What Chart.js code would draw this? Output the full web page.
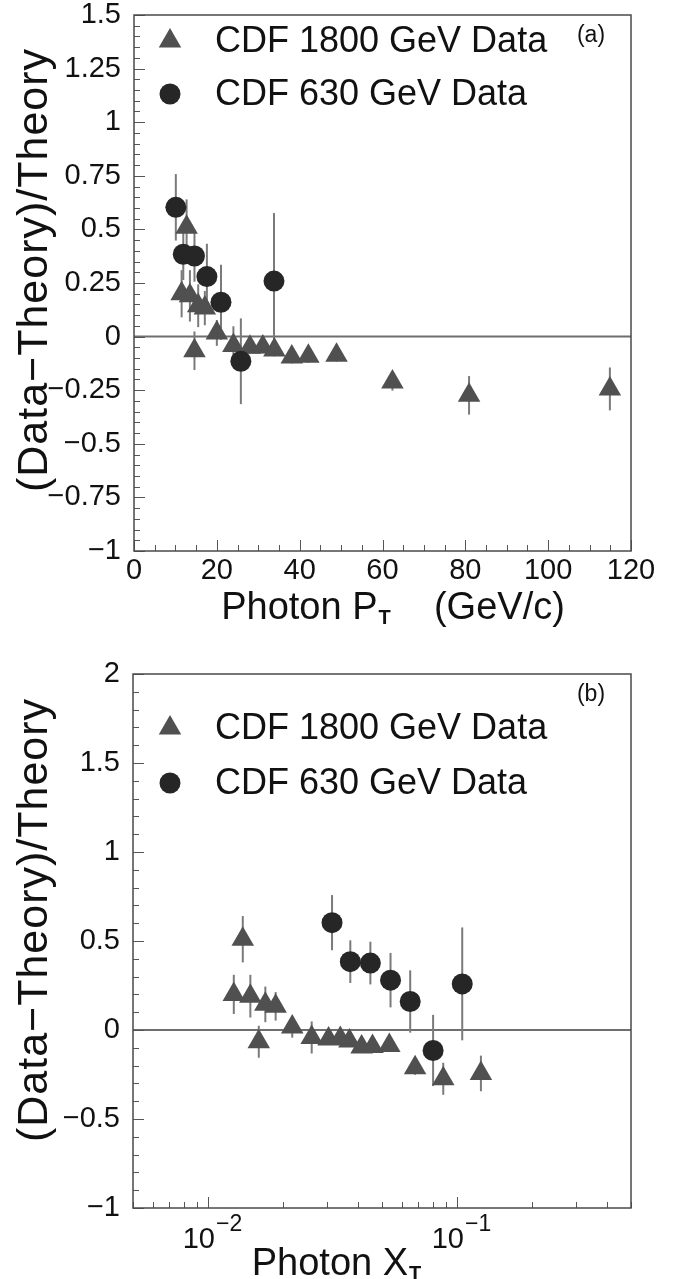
<!DOCTYPE html>
<html>
<head>
<meta charset="utf-8">
<script src="https://cdn.jsdelivr.net/npm/chart.js@4.4.1/dist/chart.umd.min.js"></script>
<style>
  html, body { margin: 0; padding: 0; background: #fff; }
  canvas { display: block; }
</style>
</head>
<body>
<canvas id="chartA" width="679" height="640"></canvas>
<canvas id="chartB" width="679" height="639"></canvas>
<script>
// CDF 1800 GeV data (triangles)
const pt1800 = [11.5, 12.7, 13.5, 14.6, 15.5, 17.1, 20.0, 24.0, 28.0, 31.1, 33.9, 38.1, 42.1, 48.9, 62.4, 80.9, 114.9];
const xt1800 = [0.0127, 0.0138, 0.0148, 0.0160, 0.0170, 0.0187, 0.0218, 0.0261, 0.0305, 0.0340, 0.0370, 0.0414, 0.0458, 0.0535, 0.0679, 0.0881, 0.1248];
const ratio1800 = [0.20, 0.51, 0.19, -0.066, 0.144, 0.133, 0.017, -0.042, -0.05, -0.048, -0.062, -0.095, -0.092, -0.087, -0.212, -0.274, -0.244];
const err1800 = [0.11, 0.13, 0.12, 0.09, 0.10, 0.08, 0.06, 0.09, 0.03, 0.03, 0.03, 0.03, 0.03, 0.03, 0.04, 0.09, 0.10];

// CDF 630 GeV data (circles)
const pt630 = [10.1, 11.9, 14.6, 17.6, 21.0, 25.8, 33.8];
const xt630 = [0.0315, 0.0373, 0.0449, 0.0541, 0.0649, 0.0802, 0.105];
const ratio630 = [0.603, 0.384, 0.376, 0.28, 0.16, -0.115, 0.259];
const err630 = [0.155, 0.12, 0.12, 0.153, 0.175, 0.20, 0.317];

const seriesLabels = ['CDF 1800 GeV Data', 'CDF 630 GeV Data'];

// axis ticks and labels
const ptTicks = [0, 20, 40, 60, 80, 100, 120];
const ratioTicksA = [-1, -0.75, -0.5, -0.25, 0, 0.25, 0.5, 0.75, 1, 1.25, 1.5];
const ratioLabelsA = ['\u22121', '\u22120.75', '\u22120.5', '\u22120.25', '0', '0.25', '0.5', '0.75', '1', '1.25', '1.5'];
const ratioTicksB = [-1, -0.5, 0, 0.5, 1, 1.5, 2];
const ratioLabelsB = ['\u22121', '\u22120.5', '0', '0.5', '1', '1.5', '2'];
const xtTicks = [0.01, 0.1];
const xtLabels = [['10', '\u22122'], ['10', '\u22121']];
const yTitle = '(Data\u2212Theory)/Theory';

const FONT = "'Liberation Sans', Arial, Helvetica, sans-serif";
Chart.defaults.font.family = FONT;
Chart.defaults.color = '#111';

const TRI_COLOR = '#505050';
const DOT_COLOR = '#262626';

// ROOT-like frame: box, inward ticks, zero line, error bars, legend and titles
const rootStyle = {
  id: 'rootStyle',
  beforeDatasetsDraw(chart, args, opts) {
    const { ctx, chartArea: a, scales: { x, y } } = chart;
    ctx.save();
    ctx.strokeStyle = '#6e6e6e';
    ctx.lineWidth = 2;
    const y0 = y.getPixelForValue(0);
    ctx.beginPath(); ctx.moveTo(a.left, y0); ctx.lineTo(a.right, y0); ctx.stroke();
    ctx.strokeStyle = '#7a7a7a';
    chart.data.datasets.forEach((ds, i) => {
      chart.getDatasetMeta(i).data.forEach((pt, j) => {
        const v = ds.data[j].y, e = ds.errors[j];
        ctx.beginPath();
        ctx.moveTo(pt.x, y.getPixelForValue(v + e));
        ctx.lineTo(pt.x, y.getPixelForValue(v - e));
        ctx.stroke();
      });
    });
    ctx.restore();
  },
  afterDraw(chart, args, opts) {
    const { ctx, chartArea: a, scales: { x, y } } = chart;
    ctx.save();
    // ticks
    ctx.strokeStyle = '#555';
    ctx.lineWidth = 1;
    const tick = (px, py, dx, dy) => {
      ctx.beginPath(); ctx.moveTo(px, py); ctx.lineTo(px + dx, py + dy); ctx.stroke();
    };
    const nY = Math.round((y.max - y.min) / opts.yMinor);
    for (let i = 0; i <= nY; i++) {
      const v = y.min + i * opts.yMinor;
      const major = Math.abs(v / opts.yMajor - Math.round(v / opts.yMajor)) < 1e-6;
      tick(a.left, Math.round(y.getPixelForValue(v)) + 0.5, major ? 11 : 6, 0);
    }
    if (x.type === 'logarithmic') {
      for (let d = 0.001; d < x.max * 1.01; d *= 10) {
        for (let k = 1; k <= 9; k++) {
          const v = k * d;
          if (v < x.min * 0.999 || v > x.max * 1.001) continue;
          tick(Math.round(x.getPixelForValue(v)) + 0.5, a.bottom, 0, k === 1 ? -11 : -6);
        }
      }
      // tick labels with exponent
      xtTicks.forEach((v, i) => {
        const [base, exp] = xtLabels[i];
        ctx.font = '29px ' + FONT;
        const wb = ctx.measureText(base).width;
        ctx.font = '23px ' + FONT;
        const we = ctx.measureText(exp).width;
        const sx = x.getPixelForValue(v) - (wb + we) / 2 + 4;
        ctx.fillStyle = '#111';
        ctx.textBaseline = 'alphabetic';
        ctx.textAlign = 'left';
        ctx.font = '29px ' + FONT;
        ctx.fillText(base, sx, a.bottom + 40);
        ctx.font = '23px ' + FONT;
        ctx.fillText(exp, sx + wb + 1, a.bottom + 23);
      });
    } else {
      const nX = Math.round((x.max - x.min) / opts.xMinor);
      for (let i = 0; i <= nX; i++) {
        const v = x.min + i * opts.xMinor;
        tick(Math.round(x.getPixelForValue(v)) + 0.5, a.bottom, 0, v % opts.xMajor === 0 ? -11 : -6);
      }
    }
    // frame
    ctx.strokeStyle = '#4a4a4a';
    ctx.lineWidth = 1.5;
    ctx.strokeRect(a.left, a.top, a.right - a.left, a.bottom - a.top);

    // legend
    const lg = opts.legend;
    chart.data.datasets.forEach((ds, i) => {
      const my = a.top + lg.top + i * lg.step;
      ctx.fillStyle = ds.backgroundColor;
      Chart.helpers.drawPoint(ctx, { pointStyle: ds.pointStyle, radius: ds.pointRadius, rotation: 0, borderWidth: 0 }, a.left + lg.marker, my);
      ctx.fillStyle = '#111';
      ctx.font = '36px ' + FONT;
      ctx.textAlign = 'left';
      ctx.textBaseline = 'middle';
      ctx.fillText(ds.label, a.left + lg.text, my + 1);
    });

    // panel tag
    ctx.font = '23px ' + FONT;
    ctx.textAlign = 'center';
    ctx.textBaseline = 'middle';
    ctx.fillText(opts.tag, a.right - 40, a.top + 21);

    // y title, rotated
    ctx.save();
    ctx.translate(opts.yTitle.cx, opts.yTitle.cy);
    ctx.rotate(-Math.PI / 2);
    ctx.font = '43px ' + FONT;
    ctx.letterSpacing = '1px';
    ctx.textAlign = 'center';
    ctx.textBaseline = 'middle';
    ctx.fillText(yTitle, 0, 0);
    ctx.restore();

    // x title with subscript
    const t = opts.xTitle;
    ctx.textAlign = 'left';
    ctx.textBaseline = 'alphabetic';
    ctx.font = '38px ' + FONT;
    const w1 = ctx.measureText(t.main).width;
    const w3 = ctx.measureText(t.after).width;
    ctx.font = 'bold 20px ' + FONT;
    const w2 = ctx.measureText(t.sub).width;
    const sx = t.cx - (w1 + w2 + 2 + w3) / 2;
    const by = a.bottom + t.dy;
    ctx.font = '38px ' + FONT;
    ctx.fillText(t.main, sx, by);
    ctx.font = 'bold 20px ' + FONT;
    ctx.fillText(t.sub, sx + w1 + 1, by + 5);
    if (t.after) {
      ctx.font = '38px ' + FONT;
      ctx.fillText(t.after, sx + w1 + w2 + 2, by);
    }
    ctx.restore();
  }
};

function makeDatasets(xs1800, xs630) {
  return [
    {
      label: seriesLabels[0],
      data: xs1800.map((v, i) => ({ x: v, y: ratio1800[i] })),
      errors: err1800,
      pointStyle: 'triangle',
      pointRadius: 13,
      backgroundColor: TRI_COLOR,
      borderWidth: 0,
      order: 1
    },
    {
      label: seriesLabels[1],
      data: xs630.map((v, i) => ({ x: v, y: ratio630[i] })),
      errors: err630,
      pointStyle: 'circle',
      pointRadius: 10.5,
      backgroundColor: DOT_COLOR,
      borderWidth: 0,
      order: 0
    }
  ];
}

function yAxis(min, max, ticks, labels, width) {
  return {
    type: 'linear',
    min: min,
    max: max,
    grid: { display: false, drawTicks: false },
    border: { display: false },
    afterBuildTicks: s => { s.ticks = ticks.map(v => ({ value: v })); },
    afterFit: s => { s.width = width; s.paddingTop = 0; s.paddingBottom = 0; },
    ticks: {
      padding: 13,
      font: { size: 29, lineHeight: 1 },
      color: '#111',
      callback: (v, i) => labels[i]
    }
  };
}

// (a) ratio versus photon pT
new Chart(document.getElementById('chartA'), {
  type: 'scatter',
  data: { datasets: makeDatasets(pt1800, pt630) },
  options: {
    responsive: false,
    animation: false,
    devicePixelRatio: 1,
    events: [],
    layout: { padding: { top: 15, right: 48, left: 0, bottom: 0 } },
    scales: {
      x: {
        type: 'linear',
        min: 0,
        max: 120,
        grid: { display: false, drawTicks: false },
        border: { display: false },
        afterBuildTicks: s => { s.ticks = ptTicks.map(v => ({ value: v })); },
        afterFit: s => { s.height = 89; s.paddingLeft = 0; s.paddingRight = 0; },
        ticks: { padding: 5, font: { size: 29, lineHeight: 1 }, color: '#111', maxRotation: 0 }
      },
      y: yAxis(-1, 1.5, ratioTicksA, ratioLabelsA, 134)
    },
    plugins: {
      legend: { display: false },
      tooltip: { enabled: false },
      rootStyle: {
        xMinor: 5, xMajor: 20, yMinor: 0.05, yMajor: 0.25,
        tag: '(a)',
        legend: { top: 26, step: 53, marker: 36, text: 81 },
        yTitle: { cx: 35, cy: 270 },
        xTitle: { main: 'Photon P', sub: 'T', after: '    (GeV/c)', cx: 393, dy: 68 }
      }
    }
  },
  plugins: [rootStyle]
});

// (b) ratio versus photon xT
new Chart(document.getElementById('chartB'), {
  type: 'scatter',
  data: { datasets: makeDatasets(xt1800, xt630) },
  options: {
    responsive: false,
    animation: false,
    devicePixelRatio: 1,
    events: [],
    layout: { padding: { top: 34, right: 48, left: 0, bottom: 0 } },
    scales: {
      x: {
        type: 'logarithmic',
        min: 0.005,
        max: 0.5,
        grid: { display: false, drawTicks: false },
        border: { display: false },
        afterBuildTicks: s => { s.ticks = xtTicks.map(v => ({ value: v })); },
        afterFit: s => { s.height = 71; s.paddingLeft = 0; s.paddingRight = 0; },
        ticks: { display: false }
      },
      y: yAxis(-1, 2, ratioTicksB, ratioLabelsB, 133)
    },
    plugins: {
      legend: { display: false },
      tooltip: { enabled: false },
      rootStyle: {
        yMinor: 0.1, yMajor: 0.5,
        tag: '(b)',
        legend: { top: 54, step: 55, marker: 37, text: 82 },
        yTitle: { cx: 35, cy: 280 },
        xTitle: { main: 'Photon X', sub: 'T', after: '', cx: 337, dy: 67 }
      }
    }
  },
  plugins: [rootStyle]
});
</script>
</body>
</html>
